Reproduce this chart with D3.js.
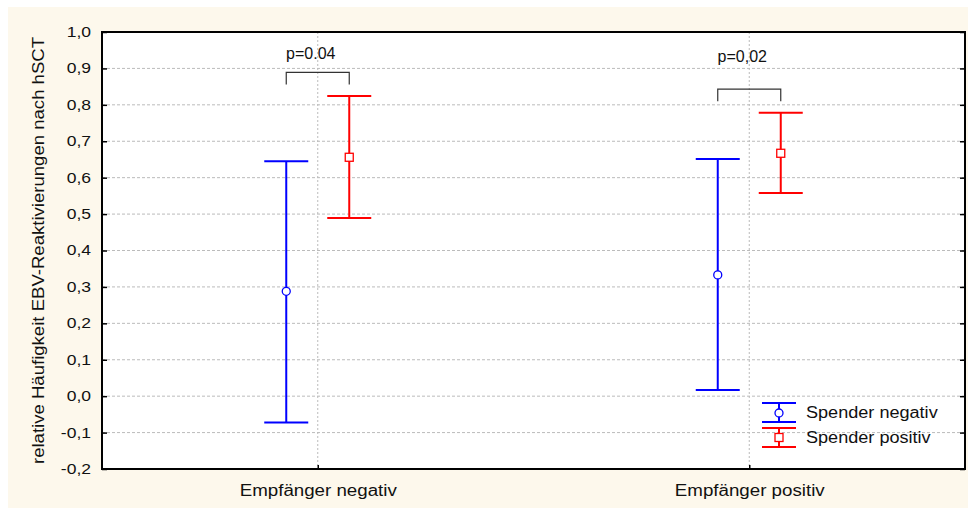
<!DOCTYPE html>
<html>
<head>
<meta charset="utf-8">
<script src="https://cdn.jsdelivr.net/npm/d3@7"></script>
<style>
  body { margin: 0; background: #fff; }
  text { font-family: "Liberation Sans", Arial, sans-serif; fill: #111; }
</style>
</head>
<body>
<div id="chart"></div>
<script>
// categories and series (mean, lower, upper)
const categories = ["Empfänger negativ", "Empfänger positiv"];
const seriesNames = ["Spender negativ", "Spender positiv"];
const negMean = [0.288, 0.333];
const negLow = [-0.072, 0.017];
const negHigh = [0.645, 0.651];
const posMean = [0.656, 0.667];
const posLow = [0.489, 0.558];
const posHigh = [0.824, 0.778];
const yTicks = [-0.2, -0.1, 0, 0.1, 0.2, 0.3, 0.4, 0.5, 0.6, 0.7, 0.8, 0.9, 1.0];
const pLabels = ["p=0.04", "p=0,02"];
const pLevel = [0.889, 0.843];
const pTextLevel = [0.926, 0.918];

const W = 968, H = 513;
const margin = {top: 32, right: 3, bottom: 44, left: 102};
const width = W - margin.left - margin.right,
      height = H - margin.top - margin.bottom;

// the original renders text wider than Arial, so stretch along the baseline
function stretch(sel, k) {
  sel.each(function () {
    const L = this.getComputedTextLength();
    d3.select(this).attr("textLength", L * k).attr("lengthAdjust", "spacingAndGlyphs");
  });
}

const svg = d3.select("#chart").append("svg")
    .attr("width", W).attr("height", H);

// cream frame
svg.append("rect").attr("x", 8).attr("y", 7).attr("width", W - 8).attr("height", 501)
    .attr("fill", "#fdf8ec");

const g = svg.append("g").attr("transform", `translate(${margin.left},${margin.top})`);

const x = d3.scalePoint().domain(categories).range([0, width]).padding(0.5);
const y = d3.scaleLinear().domain([-0.2, 1.0]).range([height, 0]);
const offset = 31.5, cap = 22;

g.append("rect").attr("width", width).attr("height", height).attr("fill", "#fff");

// grid
g.selectAll(".hgrid").data(yTicks.slice(1, -1)).join("line")
    .attr("x1", 0).attr("x2", width)
    .attr("y1", d => y(d)).attr("y2", d => y(d))
    .attr("stroke", "#bbb").attr("stroke-dasharray", "3,2");
g.selectAll(".vgrid").data(categories).join("line")
    .attr("x1", d => x(d)).attr("x2", d => x(d))
    .attr("y1", 0).attr("y2", height)
    .attr("stroke", "#bbb").attr("stroke-dasharray", "2,2");

// axes
const fmt = d => d3.format(".1f")(d).replace(".", ",").replace("−", "-");
g.append("g").call(d3.axisLeft(y).tickValues(yTicks).tickFormat(fmt).tickSize(-5).tickPadding(11))
    .call(a => a.select(".domain").remove())
    .call(a => a.selectAll("line").attr("stroke", "#000").attr("stroke-width", 1.5))
    .call(a => a.selectAll("text").attr("font-size", 14).attr("font-family", "Liberation Sans, Arial").attr("fill", "#111"))
    .call(a => stretch(a.selectAll("text"), 1.25));
g.append("g").attr("transform", `translate(${width},0)`)
    .call(d3.axisRight(y).tickValues(yTicks).tickFormat("").tickSize(-5))
    .call(a => a.select(".domain").remove())
    .call(a => a.selectAll("line").attr("stroke", "#000").attr("stroke-width", 1.5));
g.append("g").attr("transform", `translate(0,${height})`)
    .call(d3.axisBottom(x).tickSize(-4).tickPadding(16))
    .call(a => a.select(".domain").remove())
    .call(a => a.selectAll("line").attr("stroke", "#000").attr("stroke-width", 1.5))
    .call(a => a.selectAll("text").attr("font-size", 16).attr("font-family", "Liberation Sans, Arial").attr("fill", "#111"))
    .call(a => stretch(a.selectAll("text"), 1.17));

g.append("rect").attr("width", width).attr("height", height)
    .attr("fill", "none").attr("stroke", "#000").attr("stroke-width", 2);

// y label
svg.append("text")
    .attr("transform", `translate(44,${margin.top + height / 2}) rotate(-90)`)
    .attr("text-anchor", "middle").attr("font-size", 16)
    .text("relative Häufigkeit EBV-Reaktivierungen nach hSCT")
    .call(t => stretch(t, 1.16));

// error bars
const series = [
  {mean: negMean, low: negLow, high: negHigh, dx: -offset, color: "#0000ff", shape: "circle"},
  {mean: posMean, low: posLow, high: posHigh, dx: offset, color: "#ff0000", shape: "square"}
];

function drawBar(sel, cx, yl, yh, ym, color, shape, hw) {
  sel.append("line").attr("x1", cx).attr("x2", cx).attr("y1", yh).attr("y2", yl)
      .attr("stroke", color).attr("stroke-width", 2);
  [yl, yh].forEach(v => sel.append("line")
      .attr("x1", cx - hw).attr("x2", cx + hw).attr("y1", v).attr("y2", v)
      .attr("stroke", color).attr("stroke-width", 2));
  if (shape === "circle") {
    sel.append("circle").attr("cx", cx).attr("cy", ym).attr("r", 4)
        .attr("fill", "#fff").attr("stroke", color).attr("stroke-width", 1.3);
  } else {
    sel.append("rect").attr("x", cx - 4).attr("y", ym - 4).attr("width", 8).attr("height", 8)
        .attr("fill", "#fff").attr("stroke", color).attr("stroke-width", 1.3);
  }
}

series.forEach(s => {
  categories.forEach((c, i) => {
    drawBar(g, x(c) + s.dx, y(s.low[i]), y(s.high[i]), y(s.mean[i]), s.color, s.shape, cap);
  });
});

// significance brackets
categories.forEach((c, i) => {
  const yb = y(pLevel[i]);
  g.append("path")
      .attr("d", `M${x(c) - offset},${yb + 12}V${yb}H${x(c) + offset}V${yb + 12}`)
      .attr("fill", "none").attr("stroke", "#333").attr("stroke-width", 1.2);
  g.append("text").attr("x", x(c) - 7).attr("y", y(pTextLevel[i]))
      .attr("text-anchor", "middle").attr("font-size", 16).text(pLabels[i]);
});

// legend
const lg = svg.append("g").attr("transform", "translate(779,0)");
drawLegendItem(lg, 403, 422, 413, "#0000ff", "circle", seriesNames[0], 418);
drawLegendItem(lg, 428, 447, 437.5, "#ff0000", "square", seriesNames[1], 443);
function drawLegendItem(sel, y1, y2, ym, color, shape, label, ty) {
  drawBar(sel, 0, y2, y1, ym, color, shape, 17);
  sel.append("text").attr("x", 27).attr("y", ty).attr("font-size", 16).text(label)
      .call(t => stretch(t, 1.13));
}
</script>
</body>
</html>
